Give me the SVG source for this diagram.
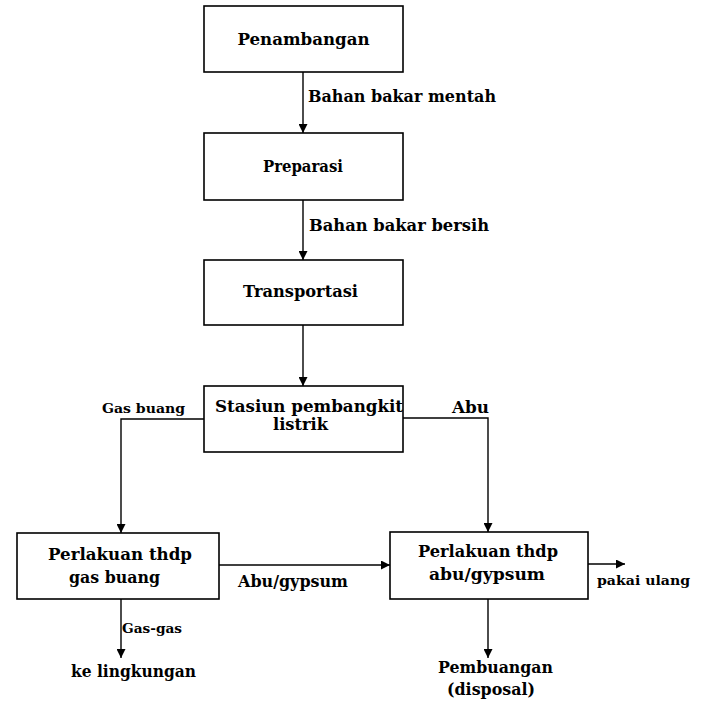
<svg xmlns="http://www.w3.org/2000/svg" width="708" height="707" viewBox="0 0 708 707">
<style>
.box{fill:#fff;stroke:#000;stroke-width:1.6}
.ln{fill:none;stroke:#000;stroke-width:1.4}
text{font-family:"DejaVu Serif","Liberation Serif",serif;font-weight:bold;fill:#000;font-size:16px}
.c{text-anchor:middle}
.s{font-size:13.5px}
</style>
<defs>
<marker id="ah" viewBox="0 0 10 10" refX="10" refY="5" markerWidth="10" markerHeight="9" markerUnits="userSpaceOnUse" orient="auto">
<path d="M0,0 L10,5 L0,10 z" fill="#000"/>
</marker>
</defs>
<rect width="708" height="707" fill="#fff"/>
<g id="connectors">
<line class="ln" x1="303" y1="72" x2="303" y2="133" marker-end="url(#ah)"/>
<line class="ln" x1="303" y1="200" x2="303" y2="260" marker-end="url(#ah)"/>
<line class="ln" x1="303" y1="325" x2="303" y2="386" marker-end="url(#ah)"/>
<polyline class="ln" points="204,419 121,419 121,533" marker-end="url(#ah)"/>
<polyline class="ln" points="403,418 488,418 488,532" marker-end="url(#ah)"/>
<line class="ln" x1="219" y1="565" x2="390" y2="565" marker-end="url(#ah)"/>
<line class="ln" x1="588" y1="564" x2="625" y2="564" marker-end="url(#ah)"/>
<line class="ln" x1="121" y1="599" x2="121" y2="658" marker-end="url(#ah)"/>
<line class="ln" x1="488" y1="599" x2="488" y2="658" marker-end="url(#ah)"/>
<text x="308" y="102" textLength="188" lengthAdjust="spacingAndGlyphs">Bahan bakar mentah</text>
<text x="309" y="231" textLength="180" lengthAdjust="spacingAndGlyphs">Bahan bakar bersih</text>
<text class="s" x="102" y="413" textLength="83" lengthAdjust="spacingAndGlyphs">Gas buang</text>
<text x="452" y="413" textLength="37" lengthAdjust="spacingAndGlyphs">Abu</text>
<text x="238" y="587" textLength="110" lengthAdjust="spacingAndGlyphs">Abu/gypsum</text>
<text class="s" x="597" y="585" textLength="93" lengthAdjust="spacingAndGlyphs">pakai ulang</text>
<text class="s" x="122" y="633" textLength="60" lengthAdjust="spacingAndGlyphs">Gas-gas</text>
<text x="71" y="677" textLength="125" lengthAdjust="spacingAndGlyphs">ke lingkungan</text>
<text x="438" y="673" textLength="115" lengthAdjust="spacingAndGlyphs">Pembuangan</text>
<text x="447" y="695" textLength="88" lengthAdjust="spacingAndGlyphs">(disposal)</text>
</g>
<g id="penambangan">
<rect class="box" x="204" y="6" width="199" height="66"/>
<text class="c" x="303.5" y="45" textLength="132" lengthAdjust="spacingAndGlyphs">Penambangan</text>
</g>
<g id="preparasi">
<rect class="box" x="204" y="133" width="199" height="67"/>
<text class="c" x="303" y="172" textLength="80" lengthAdjust="spacingAndGlyphs">Preparasi</text>
</g>
<g id="transportasi">
<rect class="box" x="204" y="260" width="199" height="65"/>
<text class="c" x="300.5" y="297" textLength="115" lengthAdjust="spacingAndGlyphs">Transportasi</text>
</g>
<g id="stasiun">
<rect class="box" x="204" y="386" width="199" height="66"/>
<text class="c" x="309" y="412" textLength="188" lengthAdjust="spacingAndGlyphs">Stasiun pembangkit</text>
<text class="c" x="300.5" y="430" textLength="55" lengthAdjust="spacingAndGlyphs">listrik</text>
</g>
<g id="perlakuan-gas">
<rect class="box" x="17" y="533" width="202" height="66"/>
<text class="c" x="120" y="560" textLength="144" lengthAdjust="spacingAndGlyphs">Perlakuan thdp</text>
<text class="c" x="114.5" y="583" textLength="91" lengthAdjust="spacingAndGlyphs">gas buang</text>
</g>
<g id="perlakuan-abu">
<rect class="box" x="390" y="532" width="198" height="67"/>
<text class="c" x="488" y="557" textLength="140" lengthAdjust="spacingAndGlyphs">Perlakuan thdp</text>
<text class="c" x="487" y="580" textLength="116" lengthAdjust="spacingAndGlyphs">abu/gypsum</text>
</g>
</svg>
